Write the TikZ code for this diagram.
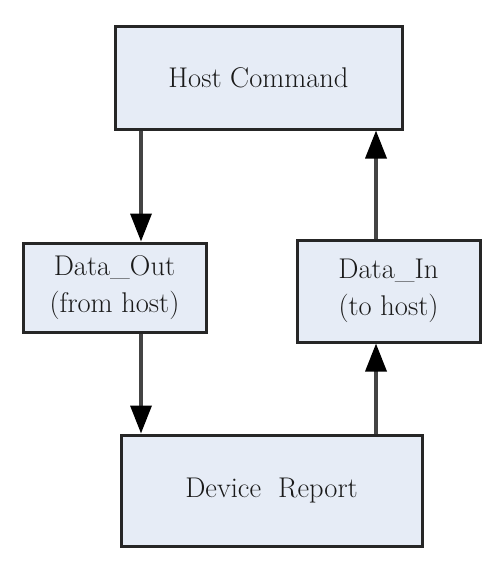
\documentclass[tikz,border=0pt]{standalone}
\usetikzlibrary{arrows.meta}
\definecolor{boxfill}{HTML}{E6ECF6}
\definecolor{boxline}{HTML}{262626}
\definecolor{arrline}{HTML}{444444}
\definecolor{txt}{HTML}{1A1A1A}
\tikzset{
  blk/.style={draw=boxline, fill=boxfill, line width=3pt, rectangle, align=center,
    inner sep=0pt, font=\fontsize{28.5}{37}\selectfont, text=txt},
  arr/.style={draw=arrline, line width=3.5pt, -{Triangle[length=28pt,width=21pt,color=black]}}
}
\begin{document}
\begin{tikzpicture}[x=1pt,y=1pt]
\useasboundingbox (0,0) rectangle (500,-571);
\node[blk, minimum width=287pt, minimum height=103pt] (host) at (258.5,-77.5) {Host Command};
\node[blk, minimum width=183pt, minimum height=89pt] (dout) at (114.5,-287.5) {Data\_Out\\(from host)};
\node[blk, minimum width=183pt, minimum height=102pt] (din) at (388.5,-291) {Data\_In\\(to host)};
\node[blk, minimum width=301pt, minimum height=111pt] (dev) at (271.5,-490.5) {Device\hspace{0.6em}Report};
\coordinate (xl) at (141,0);
\coordinate (xr) at (376,0);
\draw[arr] (xl |- host.south) -- (xl |- dout.north);
\draw[arr] (xl |- dout.south) -- (xl |- dev.north);
\draw[arr] (xr |- dev.north) -- (xr |- din.south);
\draw[arr] (xr |- din.north) -- (xr |- host.south);
\end{tikzpicture}
\end{document}
